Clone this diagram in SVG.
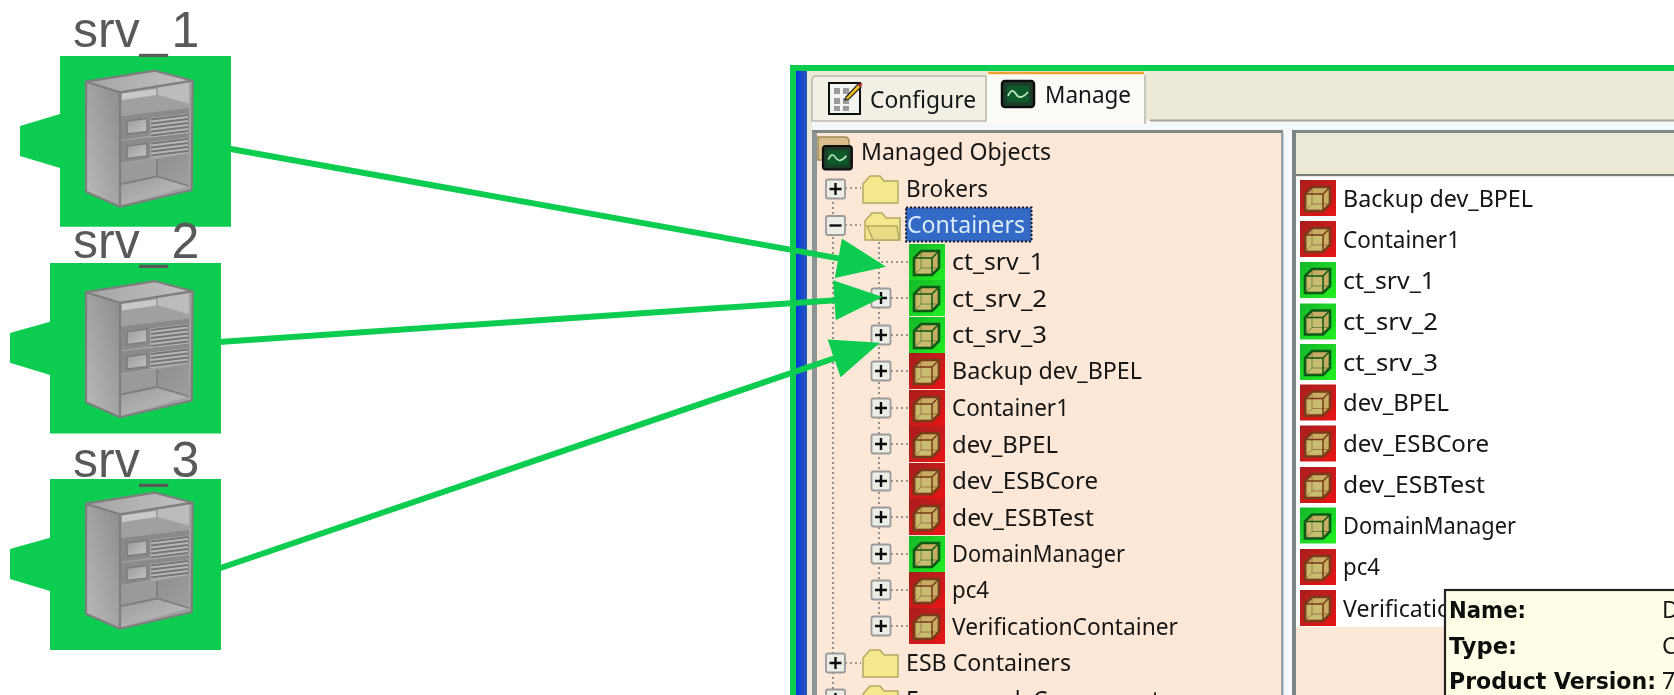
<svg xmlns="http://www.w3.org/2000/svg" xmlns:xlink="http://www.w3.org/1999/xlink" width="1674" height="695" viewBox="0 0 1674 695">
<style>
.g{fill:#0DCD50}
.lbl{font-family:"Liberation Sans",Arial,sans-serif;font-size:50px;fill:#595959}
.t{font-family:"Noto Sans","DejaVu Sans",sans-serif;font-size:23px;fill:#141414}
.b{font-family:"DejaVu Sans","Noto Sans",sans-serif;font-size:23px;font-weight:bold;fill:#111}
.dot{stroke:#777;stroke-width:1.6;stroke-dasharray:2 3;fill:none}
.conn{stroke:#0DCD50;stroke-width:6;fill:none;marker-end:url(#head)}
.fold{fill:#F3E88C;stroke:#B5A860;stroke-width:1.5}
</style>
<defs>
<marker id="head" markerUnits="userSpaceOnUse" markerWidth="50" markerHeight="40" viewBox="0 0 46 38" refX="26" refY="19" orient="auto"><path d="M0,0 L46,19 L0,38 Z" fill="#0DCD50"/></marker>
<linearGradient id="sL" x1="1" y1="0" x2="0" y2="1"><stop offset="0" stop-color="#8c8c8c"/><stop offset="1" stop-color="#bababa"/></linearGradient>
<linearGradient id="sT" x1="0" y1="0" x2="1" y2="0"><stop offset="0" stop-color="#a4a4a4"/><stop offset="1" stop-color="#c2c2c2"/></linearGradient>
<linearGradient id="sD" x1="0" y1="0" x2="1" y2="1"><stop offset="0" stop-color="#8e8e8e"/><stop offset="1" stop-color="#9f9f9f"/></linearGradient>
<linearGradient id="sI" x1="0" y1="0" x2="1" y2="1"><stop offset="0" stop-color="#9a9a9a"/><stop offset="1" stop-color="#c4c4c4"/></linearGradient>
<linearGradient id="red" x1="0" y1="0" x2="1" y2="1"><stop offset="0" stop-color="#A81C1C"/><stop offset="1" stop-color="#E81818"/></linearGradient>
<linearGradient id="grn" x1="0" y1="0" x2="1" y2="1"><stop offset="0" stop-color="#16B82A"/><stop offset="1" stop-color="#22F022"/></linearGradient>
<linearGradient id="blue" x1="0" y1="0" x2="1" y2="0"><stop offset="0" stop-color="#0038E0"/><stop offset="1" stop-color="#2A58B8"/></linearGradient>
<filter id="soft" x="780" y="60" width="900" height="640" filterUnits="userSpaceOnUse"><feGaussianBlur stdDeviation="0.6"/></filter>
<filter id="soft2" x="70" y="60" width="135" height="160" filterUnits="userSpaceOnUse"><feGaussianBlur stdDeviation="0.4"/></filter>
<g id="server" filter="url(#soft2)">
<path d="M86,81.7 L155,70.7 L192.7,80.7 L120,92.3 Z" fill="url(#sT)"/>
<path d="M86,81.7 L120,92.3 V206.7 L86,191.7 Z" fill="url(#sL)"/>
<path d="M120,92.3 L192.7,80.7 L191.7,190 L120,206.7 Z" fill="#a2a2a2"/>
<path d="M122,93.5 L156,89 V95 L122,100 Z" fill="#c9c9c9"/>
<path d="M158,87.5 L189,82.5 V103.5 L158,95 Z" fill="#bcbcbc"/>
<path d="M121,101 L157,96 L189,105 V108 L121,115 Z" fill="#a0a0a0"/>
<path d="M121,116 L189,108 V130 L121,140 Z" fill="#8a8a8a"/>
<path d="M127,121 L147,118.5 V131.5 L127,134 Z" fill="url(#sI)" stroke="#7c7c7c" stroke-width="1.5"/>
<path d="M150.500,118 L188,113.500 V134 L150.500,138 Z" fill="#b6b6b6"/>
<path d="M121,141 L189,133 V152 L121,163 Z" fill="#8a8a8a"/>
<path d="M127,146 L147,143.500 V156 L127,158.500 Z" fill="url(#sI)" stroke="#7c7c7c" stroke-width="1.5"/>
<path d="M150.500,142 L188,137.500 V153 L150.500,158 Z" fill="#b6b6b6"/>
<path d="M151,119.500 L188,115 M151,123.500 L188,119 M151,127.500 L188,123 M151,131.500 L188,127 M151,135.500 L188,131 M151,143.500 L188,139 M151,147.500 L188,143 M151,151.500 L188,147 M151,155.500 L188,151" stroke="#777" stroke-width="1.800" fill="none"/>
<path d="M121,164 L157,159 V176.500 L121,183 Z" fill="#9a9a9a"/>
<path d="M157,159 L189,153 V186.500 L157,176.500 Z" fill="url(#sD)"/>
<path d="M121,184 L157,176.500 L189,186 L121,205 Z" fill="url(#sI)"/>
<path d="M157,159 V176.500 M121,184 L157,176.500 L189,186" stroke="#7f7f7f" stroke-width="1.800" fill="none"/>
<path d="M86,81.7 L155,70.7 L192.700,80.700 L191.700,190 L120,206.700 L86,191.700 Z M86,81.7 L120,92.300 L192.700,80.700 M120,92.300 V206.700" fill="none" stroke="#7e7e7e" stroke-width="2.200" stroke-linejoin="round"/>
</g>
<g id="cube" fill="none" stroke="currentColor">
<path d="M5,14 L12,7 H30 V24 L23,31 H5 Z" fill="#C7AC62" stroke-width="2.600"/>
<path d="M8,15 H22 V29 H8 Z" fill="#C8BC70" stroke="none"/>
<path d="M5,14 H23 V31 M23,14 L30,7" stroke-width="1.500"/>
<path d="M12,7 V24 H30 M12,24 L5,31" stroke-width="1" opacity=".5"/>
</g>
<g id="ok"><rect width="36" height="36" fill="url(#grn)"/><use href="#cube" color="#0B5A18"/></g>
<g id="bad"><rect width="36" height="36" fill="url(#red)"/><use href="#cube" color="#7A3A1A"/></g>
<g id="plus"><rect x="-9.500" y="-9.500" width="19" height="19" rx="2" fill="#EDEDE8" stroke="#9a9a9a" stroke-width="1.800"/><path d="M-6,0 H6 M0,-6 V6" stroke="#111" stroke-width="2.400"/></g>
<g id="minus"><rect x="-9.500" y="-9.500" width="19" height="19" rx="2" fill="#EDEDE8" stroke="#9a9a9a" stroke-width="1.800"/><path d="M-6,0 H6" stroke="#111" stroke-width="2.400"/></g>
<g id="folder"><path d="M1,9 L8,1 H18 L22,6 H36 V28 H1 Z" class="fold"/></g>
<g id="mon"><rect width="32" height="26" rx="3" fill="#1F3D2B" stroke="#111" stroke-width="2.500"/><rect x="5" y="5" width="22" height="16" fill="#0E5A2A"/><path d="M6,15 Q10,6 14,13 T26,11" stroke="#BFE8C0" stroke-width="1.800" fill="none"/></g>
<clipPath id="shot"><rect x="796" y="71" width="878" height="624"/></clipPath>
</defs>

<g id="srv_1">
<path class="g" d="M60,56 H231 V226.700 H60 V168 L20,156 V126 L60,114 Z"/>
<use href="#server"/>
<text class="lbl" x="73" y="46.500">srv_<tspan dx="4">1</tspan></text>
</g>
<g id="srv_2">
<path class="g" d="M50,263 H221 V433.500 H50 V375 L10,362.700 V333 L50,321.700 Z"/>
<use href="#server" y="210.500"/>
<text class="lbl" x="73" y="258">srv_<tspan dx="4">2</tspan></text>
</g>
<g id="srv_3">
<path class="g" d="M50,479 H221 V650 H50 V591 L10,579 V549 L50,537.700 Z"/>
<use href="#server" y="422"/>
<text class="lbl" x="73" y="477">srv_<tspan dx="4">3</tspan></text>
</g>

<g id="console">
<g clip-path="url(#shot)"><g filter="url(#soft)">
<rect x="796" y="71" width="878" height="624" fill="#ECE9D8"/>
<rect x="796" y="71" width="11" height="624" fill="url(#blue)"/>
<rect x="812" y="121" width="862" height="574" fill="#F4F8FA"/>
<rect x="1150" y="119.500" width="524" height="2" fill="#A8A89A"/>
<rect x="812" y="130" width="5" height="565" fill="#8C9498"/>
<rect x="812" y="130" width="471" height="3" fill="#808888"/>
<rect x="817" y="133" width="464" height="562" fill="#FDE8D8"/>
<rect x="1281" y="133" width="2.500" height="562" fill="#9AA0A4"/>
<rect x="1292" y="130" width="382" height="3" fill="#808888"/>
<rect x="1292" y="130" width="4" height="565" fill="#7C8488"/>
<rect x="1296" y="133" width="378" height="41" fill="#ECE9D8"/>
<rect x="1296" y="174" width="378" height="2.500" fill="#7A7A70"/>
<rect x="1296" y="176.500" width="378" height="518.500" fill="#FDE8D8"/>
<rect x="1296" y="176.500" width="378" height="450.500" fill="#FFFFFF"/>

<path d="M812,121 V80 Q812,76 816,76 H986 V121 Z" fill="#F2F0E4" stroke="#B8B8AA" stroke-width="1.500"/>
<path d="M987,124 V75 Q987,72 990,72 H1142 Q1145,72 1145,75 V124 Z" fill="#FBFBF8"/>
<path d="M988,73 H1144" stroke="#F0A030" stroke-width="2.500"/>
<path d="M1145,75 V124" stroke="#B8B8AA" stroke-width="1.500"/>
<g id="tab-icon-configure"><rect x="829" y="83" width="31" height="31" fill="#F4F4F0" stroke="#111" stroke-width="2"/><path d="M834,88 h6 v6 h-6 z M843,88 h6 v6 h-6 z M834,98 h6 v6 h-6 z M843,98 h6 v6 h-6 z M834,106 h6 v5 h-6 z M843,106 h6 v5 h-6 z" fill="#9a9a9a"/><path d="M846,97 L858,84 L861,87 L849,99 L845,100 Z" fill="#F0C020" stroke="#222" stroke-width="1.200"/><path d="M858,84 L861,87 L862.500,83 Z" fill="#D02020"/></g>
<use href="#mon" x="1002" y="81"/>
<text class="t" x="870" y="108" textLength="106" lengthAdjust="spacingAndGlyphs">Configure</text>
<text class="t" x="1045" y="103" textLength="86" lengthAdjust="spacingAndGlyphs">Manage</text>

<path class="dot" d="M833,197 V695 M879,242 V626 M845,188 H861 M845,225 H861 M845,663 H861 M881,262 H908 M891,298 H908 M891,335 H908 M891,371 H908 M891,408 H908 M891,444 H908 M891,481 H908 M891,517 H908 M891,554 H908 M891,590 H908 M891,626 H908"/>

<g id="tree-root"><path d="M818,137 H845 Q849,137 849,142 V160 H818 Z" fill="#D9BE8C" stroke="#A08850" stroke-width="1.500"/><use href="#mon" x="823" y="146" transform="translate(82.300 14.600) scale(.9)"/><text class="t" x="861" y="160" textLength="190" lengthAdjust="spacingAndGlyphs">Managed Objects</text></g>
<g id="tree-brokers"><use href="#plus" x="835.500" y="189"/><use href="#folder" x="862" y="175"/><text class="t" x="906" y="196.500" textLength="82" lengthAdjust="spacingAndGlyphs">Brokers</text></g>
<g id="tree-containers"><use href="#minus" x="835.500" y="225.500"/><use href="#folder" x="864" y="212"/><path d="M867,226 H897 L899,240 H873 Z" fill="#E8DC88" stroke="#B5A860" stroke-width="1.500"/><rect x="906" y="207.500" width="125.500" height="34" fill="#316AC5" stroke="#1a1a2a" stroke-width="2" stroke-dasharray="2 2"/><text class="t" x="907" y="233" textLength="118" lengthAdjust="spacingAndGlyphs" style="fill:#DCEBFF">Containers</text></g>

<use href="#ok" x="909" y="244"/><text class="t" x="952" y="270" textLength="92" lengthAdjust="spacingAndGlyphs">ct_srv_1</text>
<use href="#plus" x="881" y="298"/><use href="#ok" x="909" y="280"/><text class="t" x="952" y="306.500" textLength="95" lengthAdjust="spacingAndGlyphs">ct_srv_2</text>
<use href="#plus" x="881" y="335"/><use href="#ok" x="909" y="317"/><text class="t" x="952" y="343" textLength="95" lengthAdjust="spacingAndGlyphs">ct_srv_3</text>
<use href="#plus" x="881" y="371"/><use href="#bad" x="909" y="353"/><text class="t" x="952" y="379" textLength="190" lengthAdjust="spacingAndGlyphs">Backup dev_BPEL</text>
<use href="#plus" x="881" y="408"/><use href="#bad" x="909" y="390"/><text class="t" x="952" y="416" textLength="117" lengthAdjust="spacingAndGlyphs">Container1</text>
<use href="#plus" x="881" y="444"/><use href="#bad" x="909" y="426"/><text class="t" x="952" y="452.500" textLength="106" lengthAdjust="spacingAndGlyphs">dev_BPEL</text>
<use href="#plus" x="881" y="481"/><use href="#bad" x="909" y="463"/><text class="t" x="952" y="489" textLength="146" lengthAdjust="spacingAndGlyphs">dev_ESBCore</text>
<use href="#plus" x="881" y="517"/><use href="#bad" x="909" y="499"/><text class="t" x="952" y="525.500" textLength="142" lengthAdjust="spacingAndGlyphs">dev_ESBTest</text>
<use href="#plus" x="881" y="554"/><use href="#ok" x="909" y="536"/><text class="t" x="952" y="562" textLength="173" lengthAdjust="spacingAndGlyphs">DomainManager</text>
<use href="#plus" x="881" y="590"/><use href="#bad" x="909" y="572"/><text class="t" x="952" y="598" textLength="37" lengthAdjust="spacingAndGlyphs">pc4</text>
<use href="#plus" x="881" y="626"/><use href="#bad" x="909" y="608"/><text class="t" x="952" y="634.500" textLength="226" lengthAdjust="spacingAndGlyphs">VerificationContainer</text>
<use href="#plus" x="835.500" y="663"/><use href="#folder" x="862" y="649"/><text class="t" x="906" y="671" textLength="165" lengthAdjust="spacingAndGlyphs">ESB Containers</text>
<use href="#plus" x="835.500" y="699"/><use href="#folder" x="862" y="685"/><text class="t" x="906" y="707.500" textLength="265" lengthAdjust="spacingAndGlyphs">Framework Components</text>

<use href="#bad" x="1300" y="180"/><text class="t" x="1343" y="206.500" textLength="190" lengthAdjust="spacingAndGlyphs">Backup dev_BPEL</text>
<use href="#bad" x="1300" y="221"/><text class="t" x="1343" y="247.500" textLength="117" lengthAdjust="spacingAndGlyphs">Container1</text>
<use href="#ok" x="1300" y="262"/><text class="t" x="1343" y="288.500" textLength="92" lengthAdjust="spacingAndGlyphs">ct_srv_1</text>
<use href="#ok" x="1300" y="303.500"/><text class="t" x="1343" y="329.500" textLength="95" lengthAdjust="spacingAndGlyphs">ct_srv_2</text>
<use href="#ok" x="1300" y="344"/><text class="t" x="1343" y="370.500" textLength="95" lengthAdjust="spacingAndGlyphs">ct_srv_3</text>
<use href="#bad" x="1300" y="384.500"/><text class="t" x="1343" y="411" textLength="106" lengthAdjust="spacingAndGlyphs">dev_BPEL</text>
<use href="#bad" x="1300" y="425.500"/><text class="t" x="1343" y="452" textLength="146" lengthAdjust="spacingAndGlyphs">dev_ESBCore</text>
<use href="#bad" x="1300" y="467"/><text class="t" x="1343" y="493" textLength="142" lengthAdjust="spacingAndGlyphs">dev_ESBTest</text>
<use href="#ok" x="1300" y="507.500"/><text class="t" x="1343" y="534" textLength="173" lengthAdjust="spacingAndGlyphs">DomainManager</text>
<use href="#bad" x="1300" y="549"/><text class="t" x="1343" y="575" textLength="37" lengthAdjust="spacingAndGlyphs">pc4</text>
<use href="#bad" x="1300" y="590"/><text class="t" x="1343" y="616.500" textLength="108" lengthAdjust="spacingAndGlyphs">Verificatio</text>

<g id="tooltip"><rect x="1445" y="590" width="240" height="120" fill="#FFFFE8" stroke="#222" stroke-width="2.200"/>
<text class="b" x="1449" y="618" textLength="77" lengthAdjust="spacingAndGlyphs">Name:</text><text class="t" x="1662" y="618">D</text>
<text class="b" x="1449" y="654" textLength="68" lengthAdjust="spacingAndGlyphs">Type:</text><text class="t" x="1662" y="654">C</text>
<text class="b" x="1449" y="689" textLength="207" lengthAdjust="spacingAndGlyphs">Product Version:</text><text class="t" x="1662" y="689">7</text></g>
</g></g>
<path class="g" d="M790,65 H1674 V71 H796 V695 H790 Z"/>
</g>

<g id="connectors">
<path class="conn" d="M228,148.500 L865.300,263.100"/>
<path class="conn" d="M219,342 L861.700,298.400"/>
<path class="conn" d="M219,568.500 L860,349.500"/>
</g>
</svg>
